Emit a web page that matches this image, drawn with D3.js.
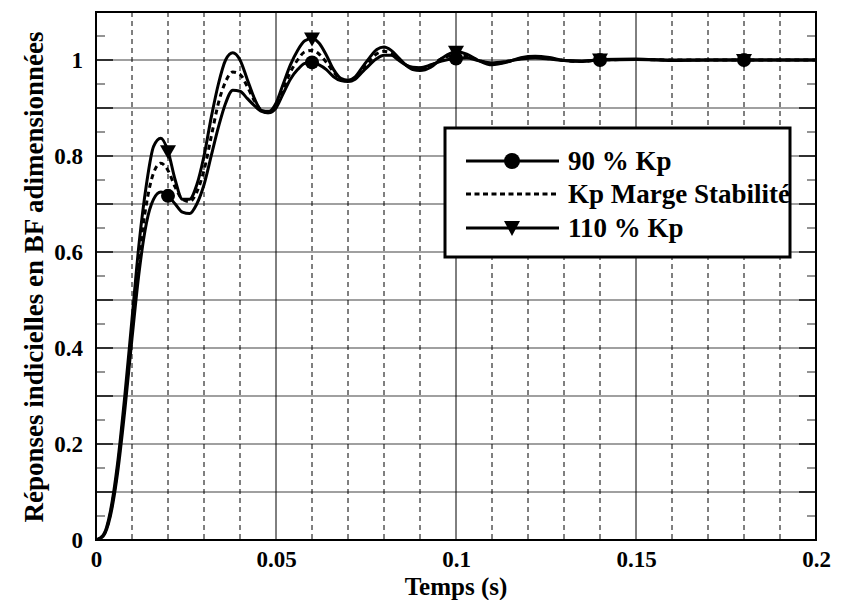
<!DOCTYPE html>
<html>
<head>
<meta charset="utf-8">
<script src="https://cdn.jsdelivr.net/npm/d3@7"></script>
<style>
  body { margin: 0; background: #fff; }
</style>
</head>
<body>
<svg id="chart" width="844" height="600"></svg>
<script>
// Step responses sampled at time (s)
const time = [0, 0.002, 0.004, 0.006, 0.008, 0.010, 0.012, 0.014, 0.016, 0.018, 0.020,
  0.022, 0.024, 0.026, 0.028, 0.030, 0.032, 0.034, 0.036, 0.038, 0.040, 0.042, 0.044,
  0.046, 0.048, 0.050, 0.052, 0.054, 0.056, 0.058, 0.060, 0.062, 0.064, 0.066, 0.068,
  0.070, 0.072, 0.074, 0.076, 0.078, 0.080, 0.082, 0.084, 0.086, 0.088, 0.090, 0.093,
  0.096, 0.100, 0.103, 0.106, 0.110, 0.114, 0.118, 0.122, 0.126, 0.130, 0.135, 0.140,
  0.150, 0.160, 0.170, 0.180, 0.190, 0.200];

const kp90 = [0, 0.008, 0.05, 0.14, 0.27, 0.42, 0.56, 0.66, 0.71, 0.725, 0.717,
  0.70, 0.683, 0.68, 0.70, 0.74, 0.80, 0.86, 0.91, 0.937, 0.935, 0.92, 0.905,
  0.893, 0.89, 0.90, 0.93, 0.96, 0.98, 0.993, 0.995, 0.99, 0.98, 0.965, 0.957,
  0.955, 0.96, 0.975, 0.99, 1.003, 1.01, 1.01, 1.0, 0.99, 0.985, 0.984, 0.99,
  0.998, 1.003, 1.004, 0.999, 0.994, 0.997, 1.002, 1.004, 1.002, 0.999, 0.998, 1.0,
  1.001, 1.0, 1.0, 1.0, 1.0, 1.0];

const kpMarge = [0, 0.009, 0.055, 0.15, 0.285, 0.44, 0.59, 0.70, 0.765, 0.785, 0.77,
  0.735, 0.71, 0.705, 0.725, 0.77, 0.84, 0.91, 0.955, 0.975, 0.97, 0.945, 0.915,
  0.895, 0.89, 0.905, 0.94, 0.975, 1.0, 1.017, 1.02, 1.012, 0.995, 0.975, 0.96,
  0.956, 0.963, 0.98, 0.998, 1.013, 1.018, 1.015, 1.003, 0.99, 0.982, 0.981, 0.988,
  1.003, 1.01, 1.008, 1.0, 0.992, 0.996, 1.003, 1.006, 1.003, 0.999, 0.997, 1.0,
  1.001, 1.0, 1.0, 1.0, 1.0, 1.0];

const kp110 = [0, 0.01, 0.06, 0.16, 0.30, 0.46, 0.62, 0.74, 0.82, 0.837, 0.81,
  0.75, 0.71, 0.71, 0.74, 0.80, 0.88, 0.95, 1.0, 1.015, 1.0, 0.96, 0.92,
  0.895, 0.893, 0.91, 0.95, 0.99, 1.02, 1.04, 1.045, 1.035, 1.01, 0.98, 0.962,
  0.958, 0.965, 0.985, 1.005, 1.022, 1.027, 1.02, 1.005, 0.99, 0.98, 0.978, 0.985,
  1.003, 1.017, 1.012, 1.0, 0.99, 0.995, 1.005, 1.008, 1.005, 0.999, 0.997, 1.001,
  1.002, 0.999, 1.0, 1.0, 1.0, 1.0];

// Marker times
const markerTimes = [0.02, 0.06, 0.10, 0.14, 0.18];

const xTicks = [0, 0.05, 0.1, 0.15, 0.2];
const yTicks = [0, 0.2, 0.4, 0.6, 0.8, 1];
const legendLabels = ["90 % Kp", "Kp Marge Stabilité", "110 % Kp"];
const xTitle = "Temps (s)";
const yTitle = "Réponses indicielles en BF adimensionnées";

const FONT = "Liberation Serif";
const svg = d3.select("#chart");
const pL = 96, pR = 816, pT = 12, pB = 540;

const x = d3.scaleLinear().domain([0, 0.2]).range([pL, pR]);
const y = d3.scaleLinear().domain([0, 1.1]).range([pB, pT]);

// Horizontal grid every 0.1
const hGrid = d3.range(0, 11).map(i => i / 10);
svg.append("g").selectAll("line").data(hGrid).join("line")
  .attr("x1", pL).attr("x2", pR)
  .attr("y1", d => y(d)).attr("y2", d => y(d))
  .attr("stroke", "#808080").attr("stroke-width", 1.5);

// Vertical grid every 0.01: dashed, solid at 0.05 multiples
const vGrid = d3.range(1, 20).map(i => i / 100);
svg.append("g").selectAll("line").data(vGrid).join("line")
  .attr("x1", d => x(d)).attr("x2", d => x(d))
  .attr("y1", pT).attr("y2", pB)
  .attr("stroke", "#000").attr("stroke-width", 1)
  .attr("stroke-dasharray", (d, i) => ((i + 1) % 5 === 0) ? null : "5,4");

// Minor and major ticks on y (left and right)
const yMinor = d3.range(0, 11).map(i => i / 10 + 0.05).filter(d => d < 1.1);
const tk = svg.append("g");
tk.selectAll(".ml").data(yMinor).join("line").attr("class", "ml")
  .attr("x1", pL).attr("x2", pL + 9)
  .attr("y1", d => y(d)).attr("y2", d => y(d))
  .attr("stroke", "#707070").attr("stroke-width", 1.5);
tk.selectAll(".mr").data(yMinor).join("line").attr("class", "mr")
  .attr("x1", pR - 9).attr("x2", pR)
  .attr("y1", d => y(d)).attr("y2", d => y(d))
  .attr("stroke", "#707070").attr("stroke-width", 1.5);
tk.selectAll(".Ml").data(hGrid).join("line").attr("class", "Ml")
  .attr("x1", pL).attr("x2", pL + 17)
  .attr("y1", d => y(d)).attr("y2", d => y(d))
  .attr("stroke", "#303030").attr("stroke-width", 2);
tk.selectAll(".Mr").data(hGrid).join("line").attr("class", "Mr")
  .attr("x1", pR - 17).attr("x2", pR)
  .attr("y1", d => y(d)).attr("y2", d => y(d))
  .attr("stroke", "#303030").attr("stroke-width", 2);

// Frame
svg.append("rect").attr("x", pL).attr("y", pT)
  .attr("width", pR - pL).attr("height", pB - pT)
  .attr("fill", "none").attr("stroke", "#000").attr("stroke-width", 2);

// Tick labels via d3 axes
const xAxis = d3.axisBottom(x).tickValues(xTicks).tickSize(0)
  .tickFormat(d => String(+d.toFixed(2)));
const gx = svg.append("g").attr("transform", `translate(0,${pB})`).call(xAxis)
  .attr("font-family", FONT).attr("font-weight", "bold").attr("font-size", 23);
gx.select(".domain").remove();
gx.selectAll("text").attr("y", 27).attr("dy", null).attr("fill", "#000");

const yAxis = d3.axisLeft(y).tickValues(yTicks).tickSize(0).tickPadding(13)
  .tickFormat(d => String(d));
const gy = svg.append("g").attr("transform", `translate(${pL},0)`).call(yAxis)
  .attr("font-family", FONT).attr("font-weight", "bold").attr("font-size", 23);
gy.select(".domain").remove();
gy.selectAll("text").attr("fill", "#000");

svg.append("text").attr("x", 456).attr("y", 595)
  .attr("text-anchor", "middle").attr("font-family", FONT).attr("font-weight", "bold")
  .attr("font-size", 25).text(xTitle);
svg.append("text")
  .attr("transform", "translate(43,277) rotate(-90)")
  .attr("text-anchor", "middle").attr("font-family", FONT).attr("font-weight", "bold")
  .attr("font-size", 27).text(yTitle);

// Curves
svg.append("clipPath").attr("id", "plotClip")
  .append("rect").attr("x", pL).attr("y", pT)
  .attr("width", pR - pL).attr("height", pB - pT);

const line = d3.line().x(d => x(d[0])).y(d => y(d[1])).curve(d3.curveMonotoneX);
const series = [
  { vals: kp90, dash: null },
  { vals: kpMarge, dash: "5,4" },
  { vals: kp110, dash: null }
];
const gc = svg.append("g").attr("clip-path", "url(#plotClip)");
series.forEach(s => {
  gc.append("path")
    .datum(time.map((t, i) => [t, s.vals[i]]))
    .attr("d", line)
    .attr("fill", "none").attr("stroke", "#000").attr("stroke-width", 3)
    .attr("stroke-dasharray", s.dash)
    .attr("stroke-linejoin", "round");
});

// Markers
const valueAt = (vals, t) => vals[time.findIndex(v => Math.abs(v - t) < 1e-9)];
const triPath = "M-8,-6L8,-6L0,8Z";
svg.append("g").selectAll("path").data(markerTimes).join("path")
  .attr("d", triPath)
  .attr("transform", t => `translate(${x(t)},${y(valueAt(kp110, t))})`)
  .attr("fill", "#000");
svg.append("g").selectAll("circle").data(markerTimes).join("circle")
  .attr("cx", t => x(t)).attr("cy", t => y(valueAt(kp90, t)))
  .attr("r", 7).attr("fill", "#000");

// Legend
const lg = svg.append("g");
lg.append("rect").attr("x", 445).attr("y", 128).attr("width", 345).attr("height", 129)
  .attr("fill", "#fff").attr("stroke", "#000").attr("stroke-width", 3);
const rows = [161, 194, 228];
rows.forEach((ry, i) => {
  lg.append("line").attr("x1", 466).attr("x2", 559).attr("y1", ry).attr("y2", ry)
    .attr("stroke", "#000").attr("stroke-width", 3)
    .attr("stroke-dasharray", i === 1 ? "5,3.5" : null);
  if (i === 0) lg.append("circle").attr("cx", 512).attr("cy", ry).attr("r", 8).attr("fill", "#000");
  if (i === 2) lg.append("path").attr("d", "M-8,-7L8,-7L0,8Z")
    .attr("transform", `translate(512,${ry})`).attr("fill", "#000");
  lg.append("text").attr("x", 568).attr("y", ry + 9)
    .attr("font-family", FONT).attr("font-weight", "bold")
    .attr("font-size", 27).text(legendLabels[i]);
});
</script>
</body>
</html>
